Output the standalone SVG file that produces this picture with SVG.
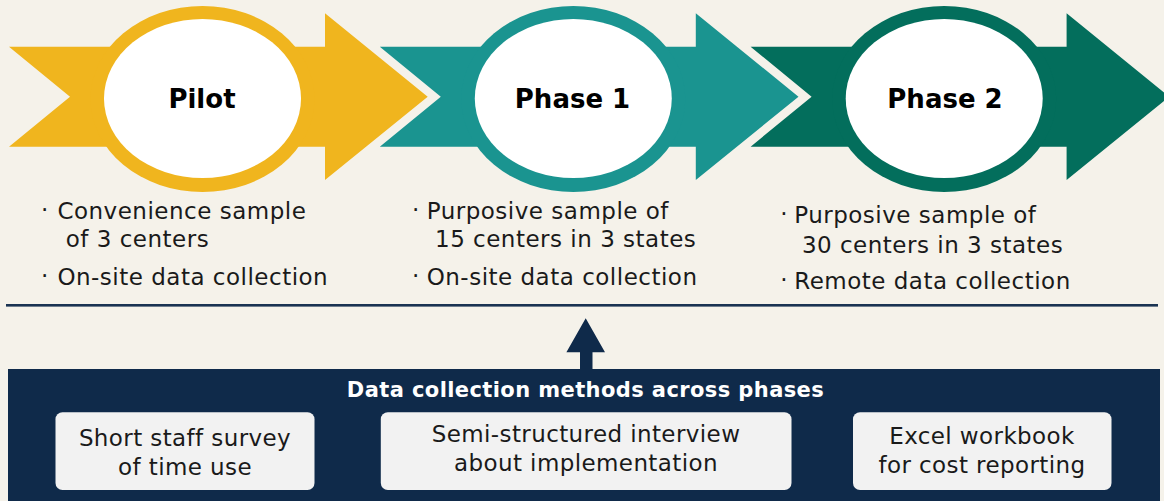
<svg xmlns="http://www.w3.org/2000/svg" width="1164" height="501" viewBox="0 0 1164 501">
<style>
.title{font-family:"DejaVu Sans",sans-serif;font-weight:bold;font-size:26px;fill:#000;text-anchor:middle}
.bul{font-family:"DejaVu Sans",sans-serif;font-size:23px;letter-spacing:0.5px;fill:#1a1a1a}
.hdr{font-family:"DejaVu Sans",sans-serif;font-weight:bold;font-size:21px;letter-spacing:0.4px;fill:#fff;text-anchor:middle}
.box{fill:#f2f2f2}
.btxt{font-family:"DejaVu Sans",sans-serif;font-size:23px;letter-spacing:0.4px;fill:#1a1a1a;text-anchor:middle}
.navy{fill:#0f2a4a}
.inner{fill:#fff}
</style>
<defs>
<polygon id="chev" points="9,46.7 325,46.7 325,13.3 427.7,96.7 325,180 325,146.7 9,146.7 70,96.7"/>
</defs>
<rect width="1164" height="501" fill="#f5f2ea"/>
<g id="pilot">
<use href="#chev" fill="#f0b51e"/>
<ellipse cx="202.5" cy="99" rx="112" ry="93" fill="#f0b51e"/>
<ellipse class="inner" cx="202.5" cy="98.5" rx="98.5" ry="79.5"/>
<text class="title" x="202" y="108">Pilot</text>
<text class="bul"><tspan x="41" y="218">·</tspan><tspan x="57.4" y="219">Convenience sample</tspan></text>
<text class="bul" x="65.8" y="247.3">of 3 centers</text>
<text class="bul"><tspan x="41" y="283.5">·</tspan><tspan x="57.4" y="284.5">On-site data collection</tspan></text>
</g>
<g id="phase1">
<use href="#chev" x="370.8" fill="#1a9490"/>
<ellipse cx="573.3" cy="99" rx="112" ry="93" fill="#1a9490"/>
<ellipse class="inner" cx="573.3" cy="98.5" rx="98.5" ry="79.5"/>
<text class="title" x="572.5" y="108">Phase 1</text>
<text class="bul"><tspan x="412" y="218">·</tspan><tspan x="426.7" y="219">Purposive sample of</tspan></text>
<text class="bul" x="435" y="247.3">15 centers in 3 states</text>
<text class="bul"><tspan x="412" y="283.5">·</tspan><tspan x="426.7" y="284.5">On-site data collection</tspan></text>
</g>
<g id="phase2">
<use href="#chev" x="741.6" fill="#036e5c"/>
<ellipse cx="944.2" cy="99" rx="112" ry="93" fill="#036e5c"/>
<ellipse class="inner" cx="944.2" cy="98.5" rx="98.5" ry="79.5"/>
<text class="title" x="945" y="108">Phase 2</text>
<text class="bul"><tspan x="780.3" y="222.3">·</tspan><tspan x="794.2" y="223.3">Purposive sample of</tspan></text>
<text class="bul" x="801.9" y="252.7">30 centers in 3 states</text>
<text class="bul"><tspan x="780.3" y="288.3">·</tspan><tspan x="794.2" y="289.3">Remote data collection</tspan></text>
</g>
<rect id="divider" x="6" y="304" width="1152" height="2.6" fill="#1a3352"/>
<g id="methods">
<rect class="navy" x="8" y="369" width="1152" height="140"/>
<text class="hdr" x="585.5" y="397">Data collection methods across phases</text>
<g id="survey">
<rect class="box" x="55.5" y="412.3" width="259" height="77.7" rx="7"/>
<text class="btxt" x="185" y="446">Short staff survey</text>
<text class="btxt" x="185" y="475">of time use</text>
</g>
<g id="interview">
<rect class="box" x="380.8" y="412.3" width="410.7" height="77.7" rx="7"/>
<text class="btxt" x="586" y="441.5">Semi-structured interview</text>
<text class="btxt" x="586" y="470.5">about implementation</text>
</g>
<g id="workbook">
<rect class="box" x="853" y="412.3" width="258.5" height="77.7" rx="7"/>
<text class="btxt" x="982" y="444">Excel workbook</text>
<text class="btxt" x="982" y="473">for cost reporting</text>
</g>
</g>
<g id="connectors">
<polygon class="navy" points="585.7,318.3 605,352.3 592.5,352.3 592.5,370 580,370 580,352.3 566.4,352.3"/>
</g>
</svg>
